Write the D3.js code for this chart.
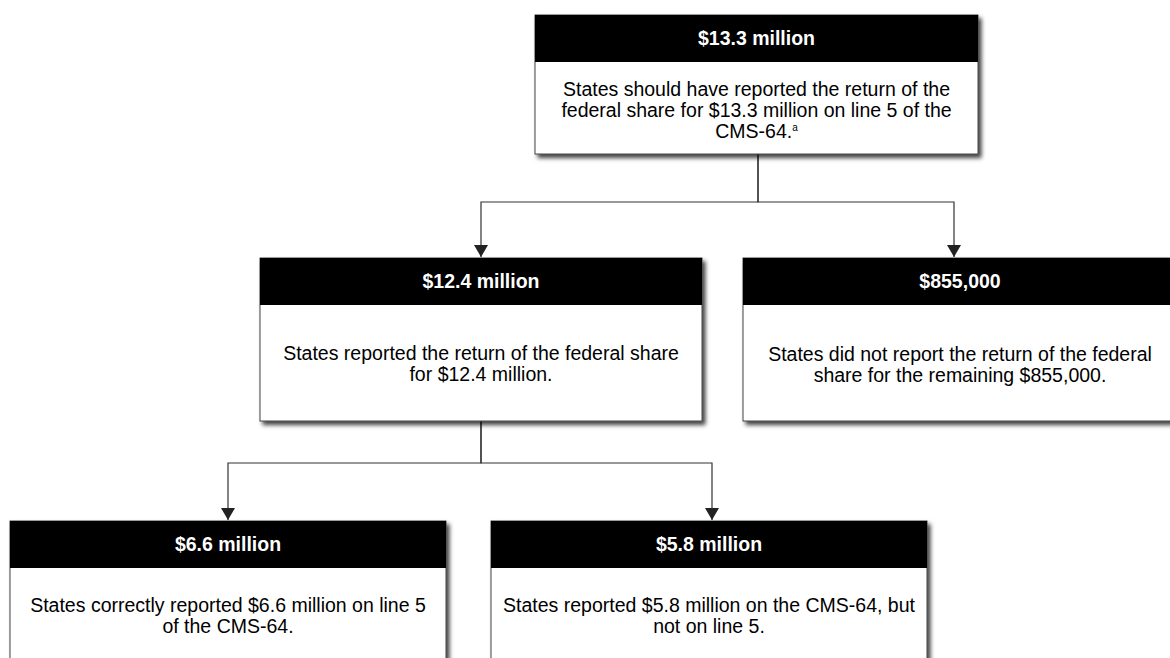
<!DOCTYPE html>
<html>
<head>
<meta charset="utf-8">
<script src="https://cdn.jsdelivr.net/npm/d3@7/dist/d3.min.js"></script>
<style>
  html, body { margin: 0; padding: 0; background: #ffffff; overflow: hidden; }
  svg { display: block; }
  text { font-family: "Liberation Sans", Arial, sans-serif; }
</style>
</head>
<body>
<svg id="chart" width="1170" height="658"></svg>
<script>
// ---- Data ----
const headers = ["$13.3 million", "$12.4 million", "$855,000", "$6.6 million", "$5.8 million"];
const bodyLines = [
  ["States should have reported the return of the", "federal share for $13.3 million on line 5 of the", "CMS-64."],
  ["States reported the return of the federal share", "for $12.4 million."],
  ["States did not report the return of the federal", "share for the remaining $855,000."],
  ["States correctly reported $6.6 million on line 5", "of the CMS-64."],
  ["States reported $5.8 million on the CMS-64, but", "not on line 5."]
];
const footnoteMarks = ["a", "", "", "", ""];
const parents = [null, 0, 0, 1, 1];

// ---- Layout (positions only) ----
const boxX = [535, 260, 743, 10, 491];
const boxY = [15, 258, 258, 521, 521];
const boxW = [443, 442, 434, 436, 436];
const headH = 47;
const bodyH = [92, 116, 116, 140, 140];
const firstBaseline = [34, 55, 56, 44, 44]; // from body top
const lineH = 21;
const fontSize = 19.5;
const elbowY = [null, 202, 202, 463, 463];

const svg = d3.select("#chart");
const defs = svg.append("defs");
const f = defs.append("filter").attr("id", "shadow")
  .attr("x", "-5%").attr("y", "-5%").attr("width", "115%").attr("height", "125%");
f.append("feDropShadow").attr("dx", 3).attr("dy", 3.5).attr("stdDeviation", 2.2)
  .attr("flood-color", "#000").attr("flood-opacity", 0.75);

defs.append("marker").attr("id", "arrow")
  .attr("viewBox", "0 0 14 12").attr("refX", 7).attr("refY", 12)
  .attr("markerWidth", 14).attr("markerHeight", 12)
  .attr("markerUnits", "userSpaceOnUse").attr("orient", "0")
  .append("path").attr("d", "M0,0 L14,0 L7,12 Z").attr("fill", "#222");

const nodes = headers.map((h, i) => ({
  i, header: h, lines: bodyLines[i], mark: footnoteMarks[i], parent: parents[i],
  x: boxX[i], y: boxY[i], w: boxW[i], bh: bodyH[i]
}));

// ---- Connectors ----
const line = d3.line();
const links = svg.append("g").attr("fill", "none").attr("stroke", "#333").attr("stroke-width", 1.2);
nodes.filter(n => n.parent !== null).forEach(n => {
  const p = nodes[n.parent];
  const px = p.x + p.w / 2 + (n.parent === 0 ? 1.5 : 0);
  const py = p.y + headH + p.bh;
  const cx = n.x + n.w / 2 + (n.i === 2 ? -6 : n.i === 4 ? 3 : 0);
  const pts = [[px, py], [px, elbowY[n.i]], [cx, elbowY[n.i]], [cx, n.y - 1]];
  links.append("path").attr("d", line(pts)).attr("marker-end", "url(#arrow)");
});

// ---- Boxes ----
const g = svg.selectAll("g.node").data(nodes).join("g").attr("class", "node")
  .attr("transform", d => `translate(${d.x},${d.y})`);

g.append("rect").attr("x", 0).attr("y", 0)
  .attr("width", d => d.w).attr("height", d => headH + d.bh)
  .attr("fill", "#fff").attr("stroke", "#444").attr("stroke-width", 1)
  .attr("filter", "url(#shadow)");
g.append("rect").attr("x", 0).attr("y", 0)
  .attr("width", d => d.w).attr("height", headH)
  .attr("fill", "#000");

g.append("text")
  .attr("x", d => d.w / 2).attr("y", headH / 2 + 6.5)
  .attr("text-anchor", "middle").attr("fill", "#fff")
  .attr("font-weight", "bold").attr("font-size", fontSize)
  .text(d => d.header);

g.each(function(d) {
  const t = d3.select(this).append("text")
    .attr("text-anchor", "middle").attr("fill", "#000").attr("font-size", fontSize);
  d.lines.forEach((ln, k) => {
    const y = headH + firstBaseline[d.i] + k * lineH;
    const ts = t.append("tspan").attr("x", d.w / 2).attr("y", y);
    if (k === d.lines.length - 1 && d.mark) {
      ts.append("tspan").text(ln);
      ts.append("tspan").attr("font-size", 10).attr("dy", -7).text(d.mark);
    } else {
      ts.text(ln);
    }
  });
});
</script>
</body>
</html>
